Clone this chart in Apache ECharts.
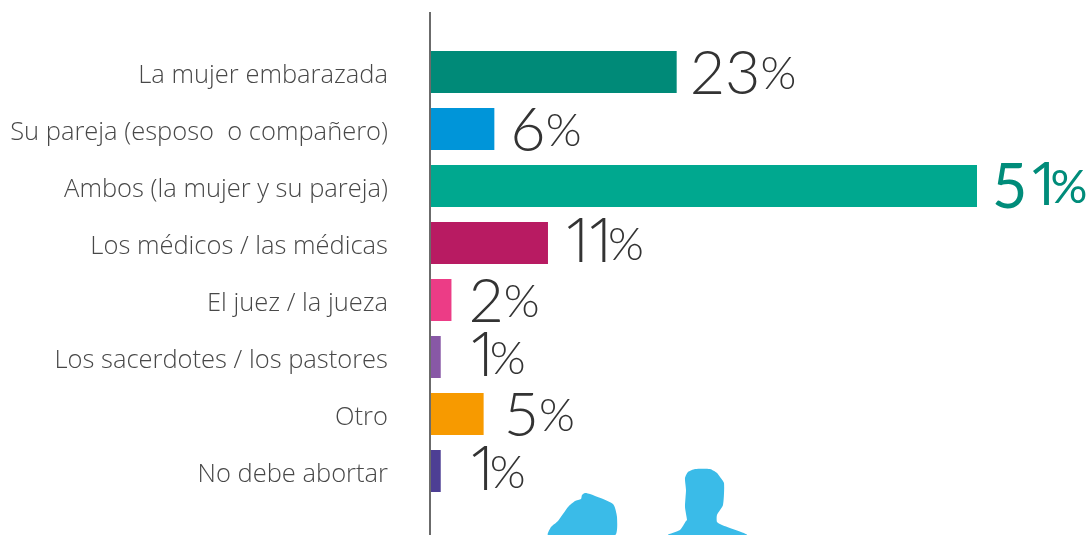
<!DOCTYPE html>
<html><head><meta charset="utf-8"><style>html,body{margin:0;padding:0;background:#fff}#c{width:1092px;height:535px}</style>
<script src="https://cdn.jsdelivr.net/npm/echarts@6/dist/echarts.min.js"></script></head>
<body><div id="c"></div><script>
const categories=["La mujer embarazada","Su pareja (esposo  o compañero)","Ambos (la mujer y su pareja)","Los médicos / las médicas","El juez / la jueza","Los sacerdotes / los pastores","Otro","No debe abortar"];
const values=[23,6,51,11,2,1,5,1];
const colors=["#008a78","#0095d9","#00a88f","#b81b62","#ec3c86","#8858a6","#f79a00","#4d3f94"];
const labelGaps=[13,16,15,14,17,26,20,26];
const highlight=2;
const womanShape=[[548,535],[551,527],[558,521],[568,507],[575,501],[581,499],[582,495],[585,493],[590,494],[613,504],[617,517],[615,535]];
const manShape=[[668,535],[680,530],[686,521],[687,520],[685,507],[686,490],[685,478],[688,472],[695,469],[710,469],[717,473],[720,477],[724,483],[723,505],[717,515],[717,522],[722,525],[747,535]];
const digits=(v,b)=>String(v).split('').map(d=>d==='1'?'{one'+b+'|1}':'{n'+b+'|'+d+'}').join('');
const chart=echarts.init(document.getElementById('c'));
const tok=(size,fam,w,extra)=>Object.assign({fontSize:size,fontFamily:fam,fontWeight:w},extra||{});
chart.setOption({animation:false,
grid:{left:430,top:43.5,width:547,height:456},
xAxis:{type:'value',min:0,max:51,show:false},
yAxis:{type:'category',inverse:true,data:categories,
 axisLine:{show:false},axisTick:{show:false},
 axisLabel:{margin:42,fontFamily:'Open Sans',fontWeight:300,fontSize:25.5,color:'#484848',verticalAlign:'top',lineHeight:8}},
graphic:[
 {type:'line',z:10,shape:{x1:430,y1:12,x2:430,y2:535},style:{stroke:'#6b6b6b',lineWidth:2}},
 {type:'polygon',shape:{points:womanShape,smooth:0.2},style:{fill:'#3abbe8'}},
 {type:'polygon',shape:{points:manShape,smooth:0.2},style:{fill:'#3abbe8'}}
],
series:[{type:'bar',barWidth:42,
 data:values.map((v,i)=>({value:v,itemStyle:{color:colors[i]},
  label:{distance:labelGaps[i],color:i===highlight?'#008c7a':'#333'}})),
 label:{show:true,position:'right',fontFamily:'Lato',offset:[0,2],
  formatter:p=>{const b=p.dataIndex===highlight?'b':'';return digits(p.value,b)+'{p'+b+'|%}';},
  rich:{n:tok(61,'Lato',300),
   nb:tok(61,'Lato',400),
   one:tok(61,'Open Sans',300,{width:23}),
   oneb:tok(61,'Open Sans',400,{width:23}),
   p:tok(46,'Lato',300),
   pb:tok(46,'Lato',400)}}}]
});
</script></body></html>
